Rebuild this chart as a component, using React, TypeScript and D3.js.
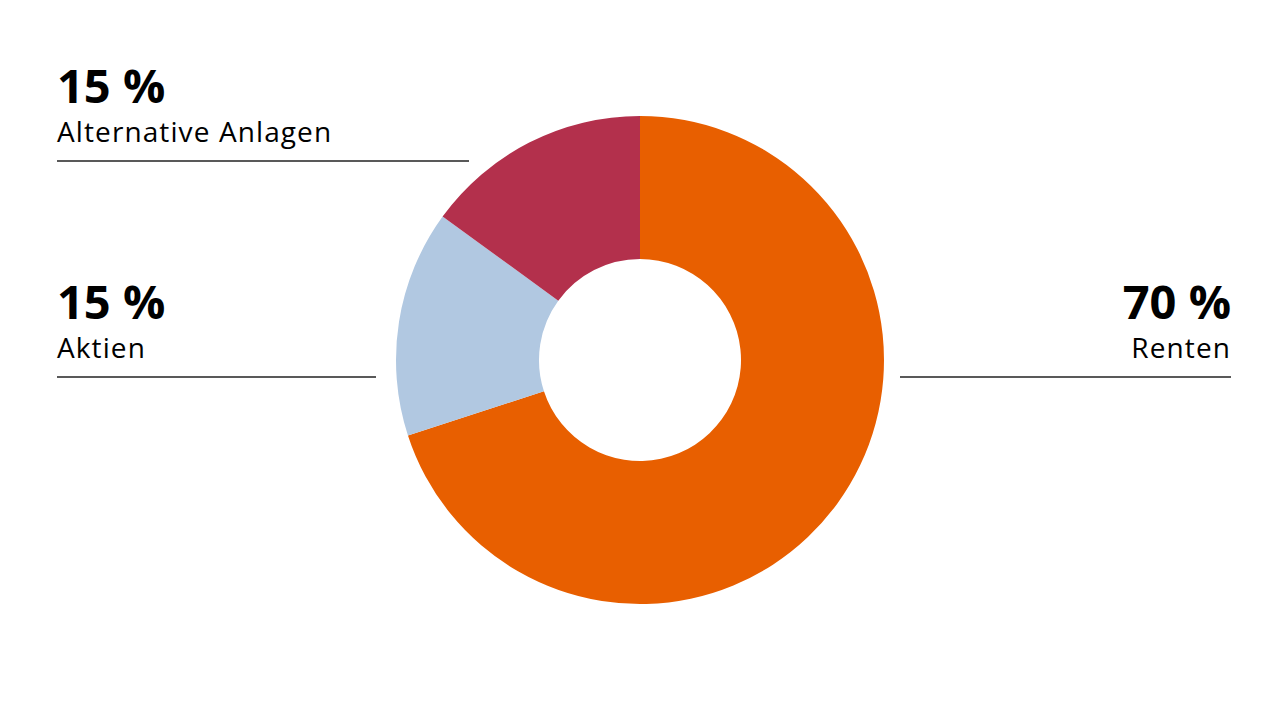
import * as d3 from "d3";

const categories = ["Renten", "Aktien", "Alternative Anlagen"];
const shares = [70, 15, 15];
const colors = ["#E85F00", "#B1C8E1", "#B3304C"];

const width = 1280;
const height = 720;
const cx = 640;
const cy = 360;
const outerR = 244;
const innerR = 101;

// label blocks: side, percent baseline, far end of the rule
const labelPos = [
  { anchor: "end", x: 1231, y: 319, x0: 900 },
  { anchor: "start", x: 57, y: 319, x0: 376 },
  { anchor: "start", x: 57, y: 103, x0: 469 },
];

const App = () => {
  const pie = d3.pie<number>().sort(null).value((d) => d);
  const arcs = pie(shares);
  const arc = d3.arc<d3.PieArcDatum<number>>().innerRadius(innerR).outerRadius(outerR);

  return (
    <svg
      width={width}
      height={height}
      style={{ position: "absolute", left: 0, top: 0, background: "#fff" }}
      fontFamily="'Open Sans', sans-serif"
    >
      <g transform={`translate(${cx},${cy})`}>
        {arcs.map((a, i) => (
          <path key={categories[i]} d={arc(a)!} fill={colors[i]} />
        ))}
      </g>
      {categories.map((c, i) => {
        const p = labelPos[i];
        return (
          <g key={c}>
            <text x={p.x} y={p.y} textAnchor={p.anchor} fontSize={47} fontWeight={700} fill="#000">
              {shares[i]} %
            </text>
            <text
              x={p.x}
              y={p.y + 39}
              textAnchor={p.anchor}
              fontSize={28}
              letterSpacing={1.1}
              fill="#000"
            >
              {c}
            </text>
            <line
              x1={Math.min(p.x, p.x0)}
              x2={Math.max(p.x, p.x0)}
              y1={p.y + 58}
              y2={p.y + 58}
              stroke="#222"
              strokeWidth={1.6}
            />
          </g>
        );
      })}
    </svg>
  );
};

export default App;
